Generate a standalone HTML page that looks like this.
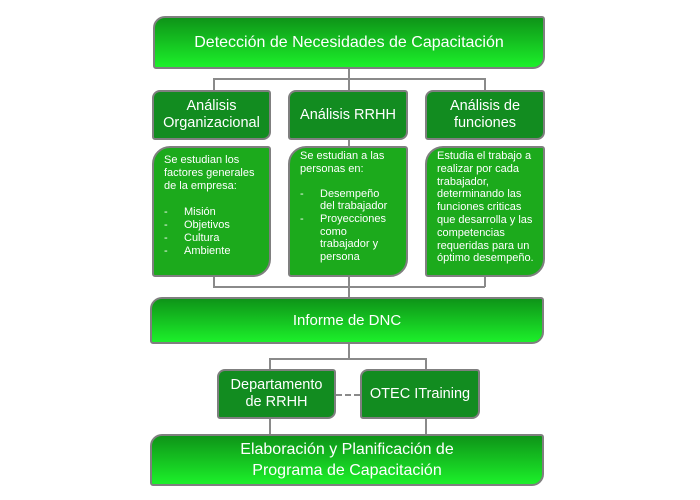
<!DOCTYPE html>
<html><head><meta charset="utf-8"><style>
body{margin:0;width:700px;height:500px;background:#fff;position:relative;font-family:"Liberation Sans",Arial,sans-serif;overflow:hidden}
.b{position:absolute;box-sizing:border-box;border:2px solid #7f7f7f;color:#fff;display:flex;align-items:center;justify-content:center;text-align:center}
.g{background:linear-gradient(#0e9418,#1cf02a);border-radius:12px 3px 12px 3px;}
.h{background:#128c20;border-radius:8px 3px 8px 3px;font-size:14.5px;line-height:17px}
.c{background:#1caa1c;border-radius:18px 3px 18px 3px;align-items:flex-start;justify-content:flex-start;text-align:left;font-size:11px;line-height:12.6px;padding:5px 6px 0 10px}
.l{position:absolute;background:#8a8a8a}
.li{display:flex}.li span{width:20px}
</style></head><body>
<div class="l" style="left:348px;top:66px;width:1.5px;height:13px"></div>
<div class="l" style="left:213px;top:78px;width:272px;height:1.5px"></div>
<div class="l" style="left:213px;top:78px;width:1.5px;height:14px"></div>
<div class="l" style="left:348px;top:78px;width:1.5px;height:70px"></div>
<div class="l" style="left:484px;top:78px;width:1.5px;height:14px"></div>
<div class="l" style="left:213px;top:275px;width:1.5px;height:12px"></div>
<div class="l" style="left:348px;top:275px;width:1.5px;height:24px"></div>
<div class="l" style="left:484px;top:275px;width:1.5px;height:12px"></div>
<div class="l" style="left:213px;top:286px;width:272px;height:1.5px"></div>
<div class="l" style="left:348px;top:341px;width:1.5px;height:18px"></div>
<div class="l" style="left:269px;top:358px;width:157px;height:1.5px"></div>
<div class="l" style="left:269px;top:358px;width:1.5px;height:78px"></div>
<div class="l" style="left:425px;top:358px;width:1.5px;height:78px"></div>
<div style="position:absolute;left:336px;top:394px;width:24px;border-top:2px dashed #8a8a8a"></div>

<div class="b g" style="left:153px;top:16px;width:392px;height:53px;font-size:16px">Detección de Necesidades de Capacitación</div>
<div class="b h" style="left:152px;top:90px;width:119px;height:50px">Análisis<br>Organizacional</div>
<div class="b h" style="left:288px;top:90px;width:120px;height:50px">Análisis RRHH</div>
<div class="b h" style="left:425px;top:90px;width:120px;height:50px">Análisis de<br>funciones</div>

<div class="b c" style="left:152px;top:146px;width:119px;height:131px;padding-top:6px;line-height:13px"><div>Se estudian los<br>factores generales<br>de la empresa:<br><br>
<div class="li"><span>-</span>Misión</div><div class="li"><span>-</span>Objetivos</div><div class="li"><span>-</span>Cultura</div><div class="li"><span>-</span>Ambiente</div></div></div>
<div class="b c" style="left:288px;top:146px;width:120px;height:131px;padding-top:2px"><div>Se estudian a las<br>personas en:<br><br>
<div class="li"><span>-</span><div>Desempeño<br>del trabajador</div></div><div class="li"><span>-</span><div>Proyecciones<br>como<br>trabajador y<br>persona</div></div></div></div>
<div class="b c" style="left:425px;top:146px;width:120px;height:131px;padding-top:2px;line-height:12.8px"><div>Estudia el trabajo a<br>realizar por cada<br>trabajador,<br>determinando las<br>funciones criticas<br>que desarrolla y las<br>competencias<br>requeridas para un<br>óptimo desempeño.</div></div>

<div class="b g" style="left:150px;top:297px;width:394px;height:47px;font-size:15px">Informe de DNC</div>
<div class="b h" style="left:217px;top:369px;width:119px;height:50px">Departamento<br>de RRHH</div>
<div class="b h" style="left:360px;top:369px;width:120px;height:50px">OTEC ITraining</div>
<div class="b g" style="left:150px;top:434px;width:394px;height:52px;font-size:16px;line-height:21px">Elaboración y Planificación de<br>Programa de Capacitación</div>
</body></html>
